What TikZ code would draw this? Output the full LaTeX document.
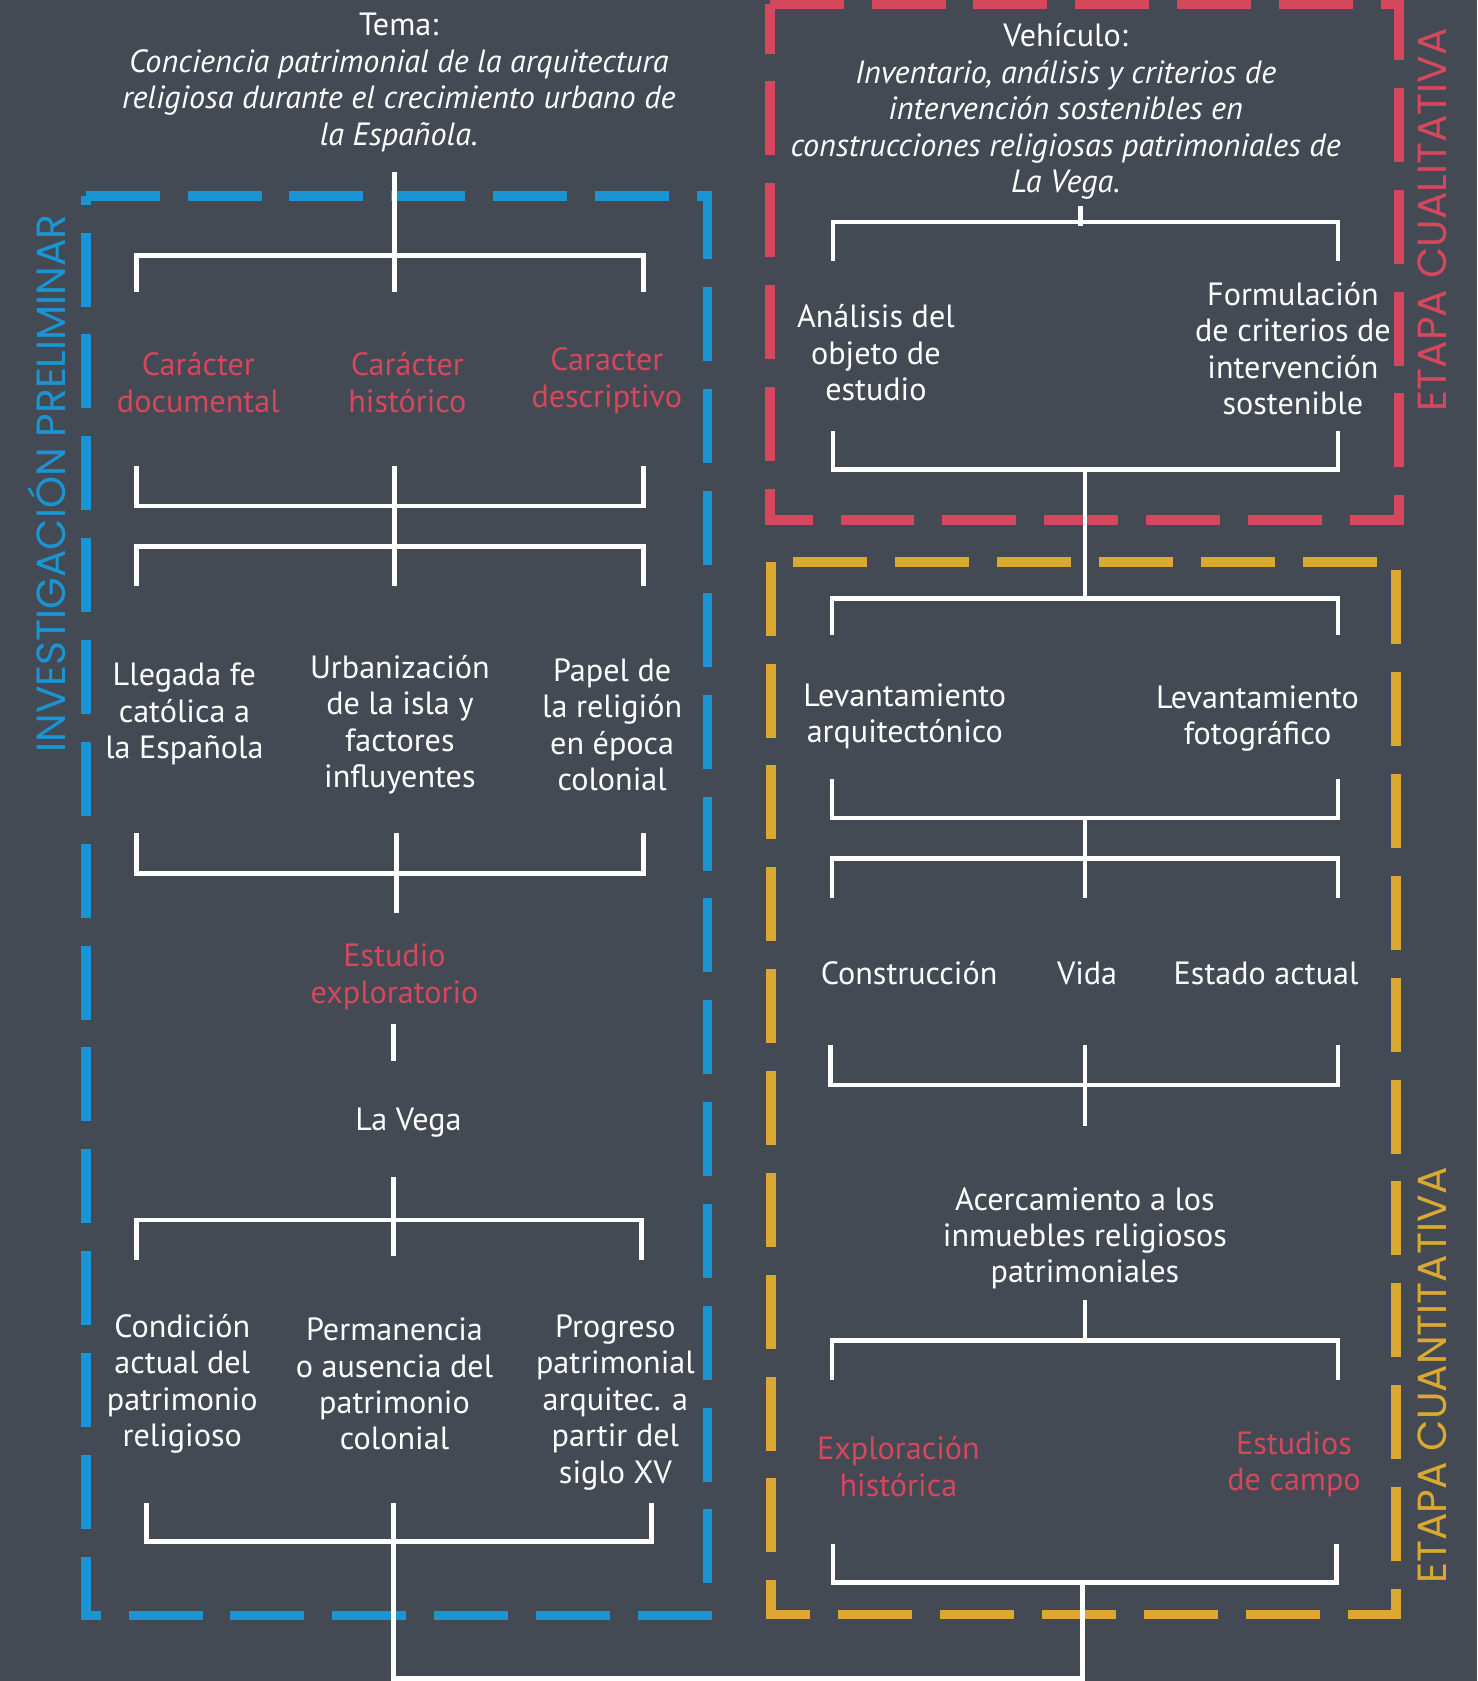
\documentclass[tikz,border=0pt]{standalone}
\usepackage{fontspec}
\setmainfont{PT Sans}
\newfontfamily\sidefont{Poppins}
\usepackage{tikz}
\usetikzlibrary{positioning}

\definecolor{bgray}{HTML}{434A54}
\definecolor{pblue}{HTML}{1A94D2}
\definecolor{pred}{HTML}{D4475C}
\definecolor{pgold}{HTML}{DBA831}

\begin{document}
\begin{tikzpicture}[
        x=1pt, y=-1pt,
        txt/.style={align=center, text=white, inner sep=0pt, font=\fontsize{30}{34}\selectfont},
        redtxt/.style={txt, text=pred},
        side/.style={rotate=90, inner sep=0pt, font=\sidefont\fontsize{38}{42}\selectfont},
        wire/.style={draw=white, line width=4.5pt},
        frame/.style={line width=9pt, dash pattern=on 69pt off 26pt}
    ]

    % --- BACKGROUND ---
    \fill[bgray] (0,0) rectangle (1378,1568);
    \useasboundingbox (0,0) rectangle (1378,1568);

    % --- FRAMES ---
    \draw[frame, pblue] (80,183) -- (660,183) -- (660,1507) -- (80,1507) -- cycle;
    \draw[frame, pred] (718,4) -- (1305,4) -- (1305,485) -- (718,485) -- cycle;
    \draw[frame, pgold] (719,524) -- (719,1506) -- (1302,1506) -- (1302,524) -- cycle;

    \node (inv) [side, text=pblue] at (44,451) {INVESTIGACIÓN PRELIMINAR};
    \node (cual) [side, text=pred] at (1336,205) {ETAPA CUALITATIVA};
    \node (cuan) [side, text=pgold] at (1336,1283) {ETAPA CUANTITATIVA};

    % --- LEFT COLUMN ---
    \node (tema) [txt] at (372,77) {Tema:\\ \itshape Conciencia patrimonial de la arquitectura\\ \itshape religiosa durante el crecimiento urbano de\\ \itshape la Española.};
    \node (cdoc) [redtxt] at (185,357) {Carácter\\documental};
    \node (chis) [redtxt] at (380,357) {Carácter\\histórico};
    \node (cdes) [redtxt] at (566,355) {Caracter\\descriptivo};
    \node (fe) [txt] at (172,666) {Llegada fe\\católica a\\la Española};
    \node (urb) [txt] at (373,676) {Urbanización\\de la isla y\\factores\\influyentes};
    \node (pap) [txt] at (571,676) {Papel de\\la religión\\en época\\colonial};
    \node (expl) [redtxt] at (368,911) {Estudio\\exploratorio};
    \node (vega) [txt] at (381,1047) {La Vega};
    \node (cond) [txt] at (170,1291) {Condición\\actual del\\patrimonio\\religioso};
    \node (perm) [txt] at (368,1291) {Permanencia\\o ausencia del\\patrimonio\\colonial};
    \node (prog) [txt] at (574,1308) {Progreso\\patrimonial\\arquitec. a\\partir del\\siglo XV};

    % --- RIGHT COLUMN ---
    \node (veh) [txt] at (994,104) {Vehículo:\\ \itshape Inventario, análisis y criterios de\\ \itshape intervención sostenibles en\\ \itshape construcciones religiosas patrimoniales de\\ \itshape La Vega.};
    \node (anal) [txt] at (817,329) {Análisis del\\objeto de\\estudio};
    \node (form) [txt] at (1206,325) {Formulación\\de criterios de\\intervención\\sostenible};
    \node (lev1) [txt] at (844,668) {Levantamiento\\arquitectónico};
    \node (lev2) [txt] at (1173,670) {Levantamiento\\fotográfico};
    \node (cons) [txt] at (848,908) {Construcción};
    \node (vida) [txt] at (1014,908) {Vida};
    \node (est) [txt] at (1181,908) {Estado actual};
    \node (acer) [txt] at (1012,1155) {Acercamiento a los\\inmuebles religiosos\\patrimoniales};
    \node (exh) [redtxt] at (838,1368) {Exploración\\histórica};
    \node (camp) [redtxt] at (1207,1366) {Estudios\\de campo};

    % --- BRACKETS, LEFT ---
    \coordinate (s1a) at (368,160);  \coordinate (s1b) at (368,272);
    \coordinate (b1l) at (127,238);  \coordinate (b1r) at (600,238);
    \coordinate (b2l) at (127,472);  \coordinate (b2r) at (600,472);
    \coordinate (s2a) at (368,435);  \coordinate (s2b) at (368,547);
    \coordinate (b3l) at (127,510);  \coordinate (b3r) at (600,510);
    \coordinate (b4l) at (127,815);  \coordinate (b4r) at (600,815);
    \coordinate (s3a) at (370,777);  \coordinate (s3b) at (370,852);
    \coordinate (s4a) at (367,955);  \coordinate (s4b) at (367,990);
    \coordinate (s5a) at (367,1098); \coordinate (s5b) at (367,1172);
    \coordinate (b5l) at (127,1138); \coordinate (b5r) at (598,1138);
    \coordinate (b6l) at (137,1438); \coordinate (b6r) at (608,1438);
    \coordinate (s6a) at (367,1402);
    \coordinate (footl) at (367,1566); \coordinate (footr) at (1010,1566);

    \draw[wire] (s1a) -- (s1b);
    \draw[wire] (b1l) ++(0,34) -- (b1l) -- (b1r) -- ++(0,34);
    \draw[wire] (b2l) ++(0,-37) -- (b2l) -- (b2r) -- ++(0,-37);
    \draw[wire] (s2a) -- (s2b);
    \draw[wire] (b3l) ++(0,37) -- (b3l) -- (b3r) -- ++(0,37);
    \draw[wire] (b4l) ++(0,-38) -- (b4l) -- (b4r) -- ++(0,-38);
    \draw[wire] (s3a) -- (s3b);
    \draw[wire] (s4a) -- (s4b);
    \draw[wire] (s5a) -- (s5b);
    \draw[wire] (b5l) ++(0,37) -- (b5l) -- (b5r) -- ++(0,37);
    \draw[wire] (b6l) ++(0,-36) -- (b6l) -- (b6r) -- ++(0,-36);

    % --- BRACKETS, RIGHT ---
    \coordinate (s8a) at (1008,192);  \coordinate (s8b) at (1008,211);
    \coordinate (c1l) at (777,207);   \coordinate (c1r) at (1248,207);
    \coordinate (c2l) at (777,438);   \coordinate (c2r) at (1248,438);
    \coordinate (s9a) at (1012,438);  \coordinate (s9b) at (1012,558);
    \coordinate (c3l) at (776,558);   \coordinate (c3r) at (1248,558);
    \coordinate (c4l) at (776,763);   \coordinate (c4r) at (1248,763);
    \coordinate (s10a) at (1012,763); \coordinate (s10b) at (1012,838);
    \coordinate (c5l) at (776,801);   \coordinate (c5r) at (1248,801);
    \coordinate (c6l) at (775,1012);  \coordinate (c6r) at (1248,1012);
    \coordinate (s11a) at (1012,975); \coordinate (s11b) at (1012,1050);
    \coordinate (s12a) at (1012,1213); \coordinate (s12b) at (1012,1250);
    \coordinate (c7l) at (776,1250);  \coordinate (c7r) at (1248,1250);
    \coordinate (c8l) at (777,1476);  \coordinate (c8r) at (1247,1476);
    \coordinate (s13a) at (1010,1476);

    \draw[wire] (s8a) -- (s8b);
    \draw[wire] (c1l) ++(0,36) -- (c1l) -- (c1r) -- ++(0,36);
    \draw[wire] (c2l) ++(0,-36) -- (c2l) -- (c2r) -- ++(0,-36);
    \draw[wire] (s9a) -- (s9b);
    \draw[wire] (c3l) ++(0,34) -- (c3l) -- (c3r) -- ++(0,34);
    \draw[wire] (c4l) ++(0,-36) -- (c4l) -- (c4r) -- ++(0,-36);
    \draw[wire] (s10a) -- (s10b);
    \draw[wire] (c5l) ++(0,37) -- (c5l) -- (c5r) -- ++(0,37);
    \draw[wire] (c6l) ++(0,-37) -- (c6l) -- (c6r) -- ++(0,-37);
    \draw[wire] (s11a) -- (s11b);
    \draw[wire] (s12a) -- (s12b);
    \draw[wire] (c7l) ++(0,37) -- (c7l) -- (c7r) -- ++(0,37);
    \draw[wire] (c8l) ++(0,-36) -- (c8l) -- (c8r) -- ++(0,-36);

    % --- JOIN AT THE FOOT ---
    \draw[wire] (s6a) -- (footl) -- (footr) -- (s13a);

\end{tikzpicture}
\end{document}
